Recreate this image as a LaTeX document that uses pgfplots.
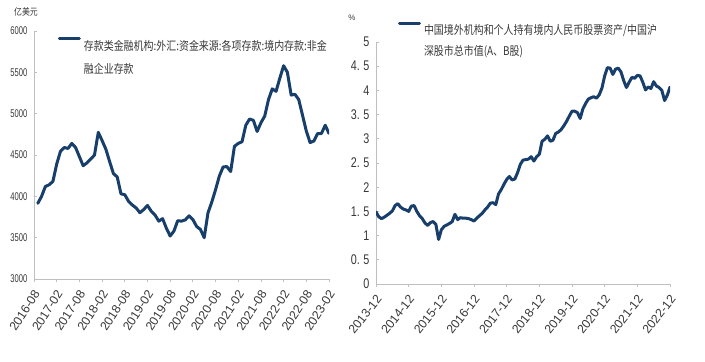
\documentclass[border=0pt]{standalone}
\usepackage{fontspec}
\usepackage{pgfplots}
\pgfplotsset{compat=1.18}
\setmainfont{Liberation Sans}
\newfontfamily\cjk[FakeStretch=0.83]{Noto Sans CJK SC}
\newfontfamily\lsL[FakeStretch=0.68]{Liberation Sans}
\newfontfamily\lsR[FakeStretch=0.77]{Liberation Sans}
\definecolor{linecol}{HTML}{183F6B}
\definecolor{axcol}{HTML}{BFBFBF}
\definecolor{txt}{HTML}{383838}
\pgfplotsset{mystyle/.style={
  scale only axis, axis x line*=bottom, axis y line*=left,
  axis line style={axcol, line width=0.8bp},
  tick style={axcol, line width=0.8bp},
  ytick style={xshift=2.5bp},
  tick align=outside, major tick length=2.5bp,
  every tick label/.append style={text=txt},
  xticklabel style={font=\fontsize{12.3bp}{12bp}\selectfont, xshift=3bp, yshift=-10bp, rotate=57, anchor=east, inner sep=0pt},
  yticklabel style={inner sep=0pt, xshift=-4bp},
  legend cell align=left,
  legend style={draw=none, fill=none, inner sep=0pt, outer sep=0pt, column sep=3bp,
    nodes={inner sep=0pt, text=txt}},
}}
\begin{document}
\begin{tikzpicture}[x=1bp,y=1bp]
\useasboundingbox (0,0) rectangle (705,361);
\begin{axis}[mystyle,
  at={(34bp,82bp)}, anchor=south west, width=295bp, height=248bp,
  xmin=0, xmax=78, ymin=3000, ymax=6000,
  xtick={0,6,...,78},
  xticklabels={2016-08,2017-02,2017-08,2018-02,2018-08,2019-02,2019-08,2020-02,2020-08,2021-02,2021-08,2022-02,2022-08,2023-02},
  ytick={3000,3500,4000,4500,5000,5500,6000},
  yticklabels={3000,3500,4000,4500,5000,5500,6000},
  yticklabel style={font=\lsL\fontsize{11.2bp}{11bp}\selectfont},
  legend style={at={(0.081,0.925)}, anchor=west},
  legend image code/.code={\draw[#1, line width=3bp] (0bp,11.5bp) -- (20bp,11.5bp); \path[draw=none,fill=none] (0bp,-11.5bp) -- (20bp,-11.5bp);},
]
\addplot[color=linecol, line width=3bp, line join=round, line cap=round] coordinates {
(1,3915)(2,4000)(3,4118)(4,4140)(5,4180)(6,4390)(7,4545)(8,4590)(9,4580)(10,4640)
(11,4590)(12,4480)(13,4370)(14,4405)(15,4450)(16,4500)(17,4774)(18,4675)(19,4570)(20,4420)
(21,4275)(22,4235)(23,4030)(24,4020)(25,3940)(26,3895)(27,3860)(28,3802)(29,3840)(30,3890)
(31,3820)(32,3774)(33,3700)(34,3730)(35,3615)(36,3520)(37,3580)(38,3705)(39,3700)(40,3715)
(41,3765)(42,3720)(43,3635)(44,3600)(45,3500)(46,3800)(47,3930)(48,4080)(49,4245)(50,4355)
(51,4360)(52,4300)(53,4605)(54,4640)(55,4660)(56,4860)(57,4935)(58,4920)(59,4785)(60,4890)
(61,4970)(62,5170)(63,5300)(64,5270)(65,5430)(66,5580)(67,5500)(68,5225)(69,5234)(70,5170)
(71,4980)(72,4790)(73,4650)(74,4670)(75,4760)(76,4760)(77,4860)(78,4760)
};
\addlegendentry{\parbox{252bp}{\cjk\fontsize{12bp}{23bp}\selectfont 存款类金融机构:外汇:资金来源:各项存款:境内存款:非金\\融企业存款}}
\end{axis}
\begin{axis}[mystyle,
  at={(376bp,77bp)}, anchor=south west, width=294bp, height=242bp,
  xmin=0, xmax=108, ymin=0, ymax=5,
  xtick={0,12,...,108},
  xticklabels={2013-12,2014-12,2015-12,2016-12,2017-12,2018-12,2019-12,2020-12,2021-12,2022-12},
  xticklabel style={rotate=-5},
  ytick={0,0.5,1,1.5,2,2.5,3,3.5,4,4.5,5},
  yticklabels={0,0.\hspace{3.5bp}5,1,1.\hspace{3.5bp}5,2,2.\hspace{3.5bp}5,3,3.\hspace{3.5bp}5,4,4.\hspace{3.5bp}5,5},
  yticklabel style={font=\lsR\fontsize{14bp}{14bp}\selectfont},
  legend style={at={(0.0748,1.034)}, anchor=west},
  legend image code/.code={\draw[#1, line width=3bp] (0bp,10.7bp) -- (20bp,10.7bp); \path[draw=none,fill=none] (0bp,-10.7bp) -- (20bp,-10.7bp);},
]
\addplot[color=linecol, line width=3bp, line join=round, line cap=round] coordinates {
(0,1.49)(1,1.39)(2,1.35)(3,1.38)(4,1.42)(5,1.46)(6,1.51)(7,1.62)(8,1.66)(9,1.59)
(10,1.55)(11,1.53)(12,1.50)(13,1.61)(14,1.62)(15,1.50)(16,1.41)(17,1.35)(18,1.26)(19,1.21)
(20,1.27)(21,1.29)(22,1.23)(23,0.92)(24,1.12)(25,1.19)(26,1.22)(27,1.25)(28,1.29)(29,1.44)
(30,1.33)(31,1.37)(32,1.36)(33,1.36)(34,1.35)(35,1.33)(36,1.30)(37,1.36)(38,1.41)(39,1.46)
(40,1.53)(41,1.59)(42,1.67)(43,1.68)(44,1.64)(45,1.86)(46,1.95)(47,2.06)(48,2.16)(49,2.22)
(50,2.15)(51,2.17)(52,2.30)(53,2.47)(54,2.56)(55,2.57)(56,2.58)(57,2.63)(58,2.54)(59,2.63)
(60,2.68)(61,2.95)(62,2.99)(63,3.06)(64,2.95)(65,2.97)(66,3.11)(67,3.14)(68,3.19)(69,3.27)
(70,3.36)(71,3.47)(72,3.57)(73,3.57)(74,3.54)(75,3.42)(76,3.62)(77,3.73)(78,3.82)(79,3.85)
(80,3.87)(81,3.84)(82,3.91)(83,4.05)(84,4.30)(85,4.47)(86,4.46)(87,4.33)(88,4.44)(89,4.46)
(90,4.38)(91,4.20)(92,4.06)(93,4.17)(94,4.27)(95,4.25)(96,4.31)(97,4.30)(98,4.17)(99,4.01)
(100,4.07)(101,4.04)(102,4.18)(103,4.09)(104,4.06)(105,4.00)(106,3.79)(107,3.90)(108,4.07)
};
\addlegendentry{\parbox{240bp}{\cjk\fontsize{12bp}{21.5bp}\selectfont 中国境外机构和个人持有境内人民币股票资产/中国沪\\深股市总市值(A、B股)}}
\end{axis}
\node[font=\cjk\fontsize{9.5bp}{10bp}\selectfont, text=txt] at (26,349) {亿美元};
\node[font=\fontsize{8bp}{8bp}\selectfont, text=txt] at (352,343) {\%};
\end{tikzpicture}
\end{document}
